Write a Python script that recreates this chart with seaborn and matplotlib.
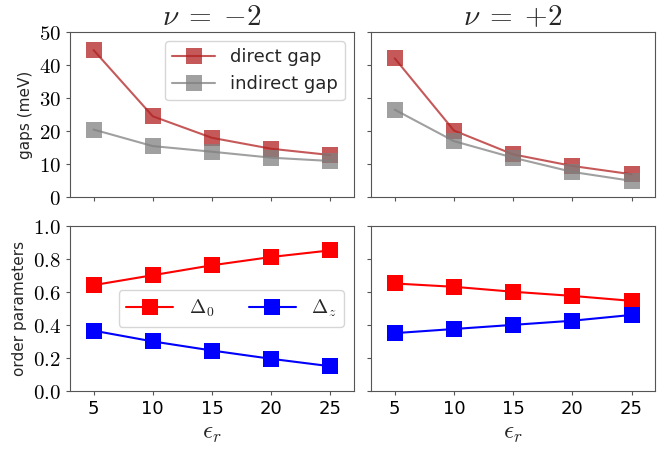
import numpy as np
import pandas as pd
import matplotlib
matplotlib.use("Agg")
import matplotlib.pyplot as plt
import seaborn as sns

eps_r = [5, 10, 15, 20, 25]
direct_m2 = [44.5, 24.5, 18.0, 14.7, 12.8]
indirect_m2 = [20.5, 15.5, 13.8, 12.0, 11.0]
direct_p2 = [42.0, 20.2, 13.0, 9.5, 7.0]
indirect_p2 = [26.5, 17.0, 12.0, 7.7, 5.0]
d0_m2 = [0.64, 0.70, 0.76, 0.81, 0.85]
dz_m2 = [0.365, 0.30, 0.245, 0.195, 0.15]
d0_p2 = [0.65, 0.63, 0.60, 0.575, 0.545]
dz_p2 = [0.35, 0.375, 0.40, 0.425, 0.46]
titles = [r"$\nu\;=\;{-}2$", r"$\nu\;=\;{+}2$"]

sns.set_style("ticks")
plt.rcParams["mathtext.fontset"] = "cm"
plt.rcParams["font.family"] = ["DejaVu Sans"]
plt.rcParams["axes.edgecolor"] = "#555555"
plt.rcParams["xtick.color"] = "#555555"
plt.rcParams["ytick.color"] = "#555555"
plt.rcParams["xtick.labelcolor"] = "black"
plt.rcParams["ytick.labelcolor"] = "black"

fig, axes = plt.subplots(2, 2, figsize=(6.72, 4.49), dpi=100, sharex=True)
fig.subplots_adjust(left=0.104, right=0.975, top=0.929, bottom=0.129, hspace=0.17, wspace=0.06)

ms = 11.5
for j, (dg, ig, d0, dz) in enumerate([(direct_m2, indirect_m2, d0_m2, dz_m2),
                                        (direct_p2, indirect_p2, d0_p2, dz_p2)]):
    ax = axes[0, j]
    sns.lineplot(x=eps_r, y=dg, ax=ax, color="firebrick", marker="s", markersize=ms,
                 markeredgewidth=0, alpha=0.75, label="direct gap")
    sns.lineplot(x=eps_r, y=ig, ax=ax, color="gray", marker="s", markersize=ms,
                 markeredgewidth=0, alpha=0.75, label="indirect gap")
    ax.set_ylim(0, 50)
    ax.set_title(titles[j], fontsize=21, pad=5)
    ax.tick_params(axis="x", labelbottom=False, length=3)
    ax.tick_params(axis="y", length=3)
    ax = axes[1, j]
    sns.lineplot(x=eps_r, y=d0, ax=ax, color="red", marker="s", markersize=ms,
                 markeredgewidth=0, label=r"$\Delta_0$")
    sns.lineplot(x=eps_r, y=dz, ax=ax, color="blue", marker="s", markersize=ms,
                 markeredgewidth=0, label=r"$\Delta_z$")
    ax.set_ylim(0, 1.0)
    ax.set_xlabel(r"$\epsilon_r$", fontsize=18, labelpad=2)
    ax.tick_params(length=3, labelsize=13)

for ax in axes.flat:
    ax.set_xlim(3, 27)
    ax.set_xticks(eps_r)

axes[0, 0].set_yticks([0, 10, 20, 30, 40, 50])
axes[0, 0].set_yticklabels([f"${v}$" for v in [0, 10, 20, 30, 40, 50]], fontsize=15)
axes[1, 0].set_yticks([0, 0.2, 0.4, 0.6, 0.8, 1.0])
axes[1, 0].set_yticklabels([f"${v:.1f}$" for v in [0, 0.2, 0.4, 0.6, 0.8, 1.0]], fontsize=15)
for i in range(2):
    axes[i, 1].set_yticks(axes[i, 0].get_yticks())
    axes[i, 1].set_ylim(axes[i, 0].get_ylim())
    axes[i, 1].tick_params(axis="y", labelleft=False, length=3)
    axes[i, 1].set_ylabel("")

axes[0, 0].set_ylabel("gaps (meV)", fontsize=11)
axes[1, 0].set_ylabel("order parameters", fontsize=11)
axes[0, 1].set_ylabel("")

axes[0, 0].legend(loc="upper right", fontsize=13, handlelength=2.4)
axes[1, 0].legend(loc="center right", ncol=2, fontsize=14, handlelength=2.4,
                  columnspacing=1.8, bbox_to_anchor=(1.0, 0.5))
axes[0, 1].get_legend().remove()
axes[1, 1].get_legend().remove()

fig.savefig("out.png", dpi=100)
